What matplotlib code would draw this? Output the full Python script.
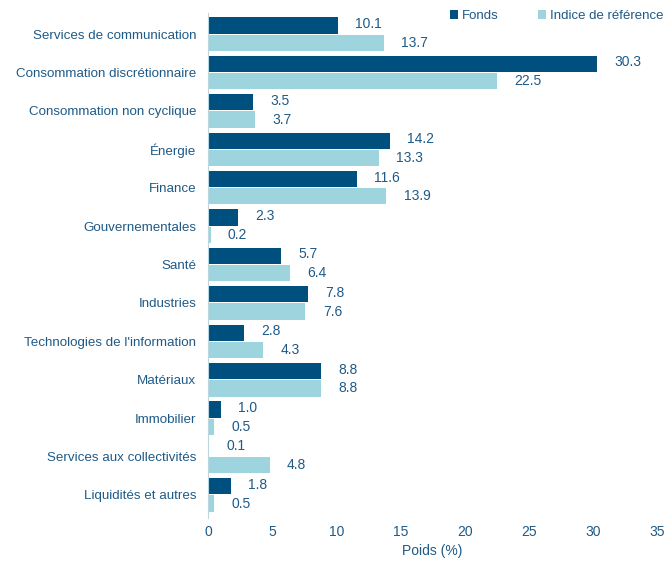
import matplotlib
matplotlib.use("Agg")
import matplotlib.pyplot as plt
import numpy as np

plt.rcParams["font.family"] = ["Liberation Sans", "DejaVu Sans"]

categories = ["Services de communication", "Consommation discrétionnaire",
              "Consommation non cyclique", "Énergie", "Finance",
              "Gouvernementales", "Santé", "Industries",
              "Technologies de l'information", "Matériaux", "Immobilier",
              "Services aux collectivités", "Liquidités et autres"]
fonds = [10.1, 30.3, 3.5, 14.2, 11.6, 2.3, 5.7, 7.8, 2.8, 8.8, 1.0, 0.1, 1.8]
indice = [13.7, 22.5, 3.7, 13.3, 13.9, 0.2, 6.4, 7.6, 4.3, 8.8, 0.5, 4.8, 0.5]

dark = "#00507f"
light = "#9dd4de"
txt = "#1f5a87"

fig = plt.figure(figsize=(6.68, 5.62), dpi=100)
ax = fig.add_axes([208 / 668, 1 - 518 / 562, 449 / 668, 505 / 562])

y = np.arange(len(categories))
h = 0.45
ax.barh(y - h / 2, fonds, height=h * 0.94, color=dark, label="Fonds")
ax.barh(y + h / 2, indice, height=h * 0.94, color=light, label="Indice de référence")

for yi, f, r in zip(y, fonds, indice):
    ax.text(f + 1.35, yi - h / 2 - 0.04, f"{f:.1f}", va="center", ha="left", color=txt, fontsize=10)
    ax.text(r + 1.35, yi + h / 2, f"{r:.1f}", va="center", ha="left", color=txt, fontsize=10)

ax.set_xlim(0, 35)
ax.set_ylim(12.6, -0.55)
ax.set_yticks(y)
ax.set_yticklabels(categories, color=txt, fontsize=9.6)
ax.set_xticks(np.arange(0, 36, 5))
ax.tick_params(axis="x", colors=txt, labelsize=10, length=0, pad=5)
ax.tick_params(axis="y", length=0, pad=8.5)
ax.set_xlabel("Poids (%)", color=txt, fontsize=10, labelpad=4)

for s in ["top", "right", "bottom"]:
    ax.spines[s].set_visible(False)
ax.spines["left"].set_color("#bcd6e0")

leg = ax.legend(loc="upper right", bbox_to_anchor=(1.026, 1.016), ncol=2, frameon=False,
                fontsize=9.5, handlelength=0.6, handleheight=0.6, handletextpad=0.3,
                columnspacing=3.0, borderaxespad=0)
for t in leg.get_texts():
    t.set_color(txt)

fig.savefig("out.png", dpi=100)
